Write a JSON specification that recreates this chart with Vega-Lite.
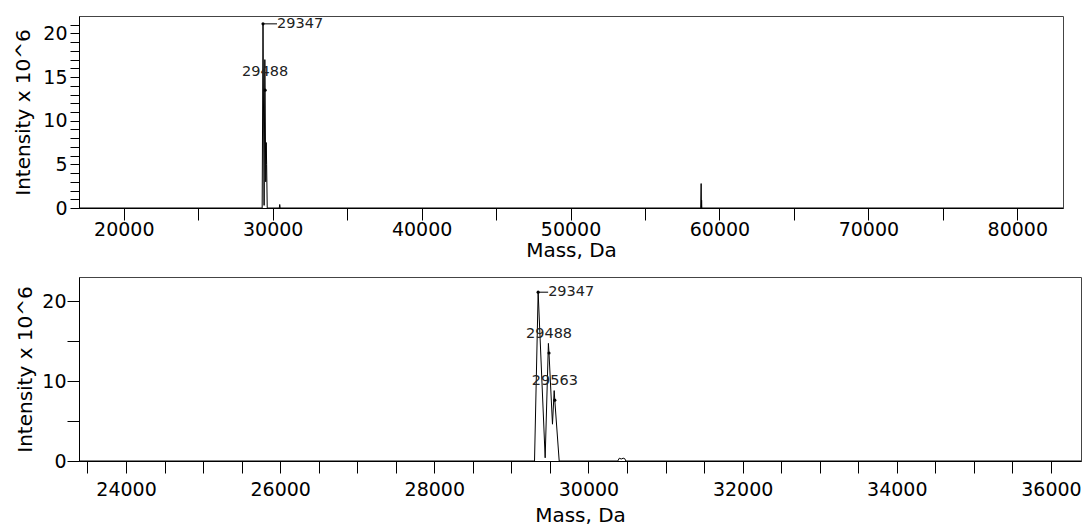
{
  "$schema": "https://vega.github.io/schema/vega-lite/v6.json",
  "padding": {"top": 15, "left": 12, "right": 0, "bottom": 0},
  "background": "white",
  "spacing": 15,
  "align": "none",
  "config": {
    "view": {"stroke": "#444", "strokeWidth": 1},
    "axis": {
      "grid": false,
      "domainColor": "#000",
      "tickColor": "#000",
      "labelColor": "#000",
      "titleColor": "#000",
      "labelFont": "DejaVu Sans",
      "titleFont": "DejaVu Sans",
      "labelFontSize": 19,
      "titleFontSize": 20,
      "titleFontWeight": "normal",
      "labelFlush": false,
      "labelOverlap": false
    }
  },
  "datasets": {
    "top_trace": [
      {"mass": 16990, "intensity": 0},
      {"mass": 29290, "intensity": 0},
      {"mass": 29347, "intensity": 21.1},
      {"mass": 29420, "intensity": 0.3},
      {"mass": 29470, "intensity": 17.0},
      {"mass": 29488, "intensity": 13.5},
      {"mass": 29530, "intensity": 3.0},
      {"mass": 29563, "intensity": 7.5},
      {"mass": 29590, "intensity": 5.0},
      {"mass": 29630, "intensity": 0},
      {"mass": 30440, "intensity": 0},
      {"mass": 30470, "intensity": 0.4},
      {"mass": 30500, "intensity": 0},
      {"mass": 58740, "intensity": 0},
      {"mass": 58770, "intensity": 2.8},
      {"mass": 58790, "intensity": 0},
      {"mass": 58800, "intensity": 0.9},
      {"mass": 58815, "intensity": 0},
      {"mass": 83070, "intensity": 0}
    ],
    "top_peaks": [
      {"mass": 29347, "intensity": 21.1, "label": "29347"},
      {"mass": 29488, "intensity": 13.5, "label": "29488"}
    ],
    "bottom_trace": [
      {"mass": 23390, "intensity": 0},
      {"mass": 29300, "intensity": 0},
      {"mass": 29347, "intensity": 21.1},
      {"mass": 29438, "intensity": 0.4},
      {"mass": 29480, "intensity": 14.7},
      {"mass": 29488, "intensity": 13.5},
      {"mass": 29533, "intensity": 4.6},
      {"mass": 29555, "intensity": 8.8},
      {"mass": 29563, "intensity": 7.6},
      {"mass": 29620, "intensity": 0},
      {"mass": 30380, "intensity": 0},
      {"mass": 30400, "intensity": 0.35},
      {"mass": 30425, "intensity": 0.25},
      {"mass": 30450, "intensity": 0.35},
      {"mass": 30470, "intensity": 0.3},
      {"mass": 30485, "intensity": 0},
      {"mass": 36390, "intensity": 0}
    ],
    "bottom_peaks": [
      {"mass": 29347, "intensity": 21.1, "label": "29347"},
      {"mass": 29488, "intensity": 13.5, "label": "29488"},
      {"mass": 29563, "intensity": 7.6, "label": "29563"}
    ]
  },
  "vconcat": [
    {
      "width": 984,
      "height": 192,
      "encoding": {
        "x": {
          "field": "mass", "type": "quantitative",
          "scale": {"domain": [16990, 83070], "nice": false, "zero": false},
          "axis": {
            "title": "Mass, Da",
            "values": [20000, 25000, 30000, 35000, 40000, 45000, 50000, 55000, 60000, 65000, 70000, 75000, 80000],
            "format": "d",
            "labelExpr": "datum.value % 10000 === 0 ? datum.label : ''",
            "tickSize": 12, "labelPadding": 0, "titlePadding": 1
          }
        },
        "y": {
          "field": "intensity", "type": "quantitative",
          "scale": {"domain": [0, 22], "nice": false},
          "axis": {
            "title": "Intensity x 10^6",
            "values": [0,1,2,3,4,5,6,7,8,9,10,11,12,13,14,15,16,17,18,19,20,21],
            "labelExpr": "datum.value % 5 === 0 ? datum.label : ''",
            "tickSize": 9, "labelPadding": 3, "titlePadding": 9.6
          }
        }
      },
      "layer": [
        {
          "data": {"name": "top_trace"},
          "mark": {"type": "line", "color": "#000", "strokeWidth": 1, "clip": true}
        },
        {
          "data": {"name": "top_peaks"},
          "mark": {"type": "point", "filled": true, "size": 10, "color": "#000", "opacity": 1}
        },
        {
          "data": {"name": "top_peaks"},
          "transform": [{"filter": "datum.label === '29347'"}],
          "mark": {"type": "text", "align": "left", "baseline": "middle", "dx": 14, "font": "DejaVu Sans", "fontSize": 14.5, "color": "#222"},
          "encoding": {"text": {"field": "label"}}
        },
        {
          "data": {"name": "top_peaks"},
          "transform": [{"filter": "datum.label === '29347'"}],
          "mark": {"type": "rule", "color": "#000", "strokeWidth": 1, "x2Offset": 14},
          "encoding": {"x2": {"field": "mass"}, "y2": {"field": "intensity"}}
        },
        {
          "data": {"name": "top_peaks"},
          "transform": [{"filter": "datum.label !== '29347'"}],
          "mark": {"type": "text", "align": "center", "baseline": "middle", "dy": -18, "font": "DejaVu Sans", "fontSize": 14.5, "color": "#222"},
          "encoding": {"text": {"field": "label"}}
        }
      ]
    },
    {
      "width": 1002,
      "height": 184,
      "encoding": {
        "x": {
          "field": "mass", "type": "quantitative",
          "scale": {"domain": [23390, 36390], "nice": false, "zero": false},
          "axis": {
            "title": "Mass, Da",
            "values": [23500,24000,24500,25000,25500,26000,26500,27000,27500,28000,28500,29000,29500,30000,30500,31000,31500,32000,32500,33000,33500,34000,34500,35000,35500,36000],
            "format": "d",
            "labelExpr": "datum.value % 2000 === 0 ? datum.label : ''",
            "tickSize": 12, "labelPadding": 7, "titlePadding": 6
          }
        },
        "y": {
          "field": "intensity", "type": "quantitative",
          "scale": {"domain": [0, 23], "nice": false},
          "axis": {
            "title": "Intensity x 10^6",
            "values": [0, 5, 10, 15, 20],
            "labelExpr": "datum.value % 10 === 0 ? datum.label : ''",
            "tickSize": 12, "labelPadding": 1, "titlePadding": 6.6
          }
        }
      },
      "layer": [
        {
          "data": {"name": "bottom_trace"},
          "mark": {"type": "line", "color": "#000", "strokeWidth": 1, "clip": true}
        },
        {
          "data": {"name": "bottom_peaks"},
          "mark": {"type": "point", "filled": true, "size": 10, "color": "#000", "opacity": 1}
        },
        {
          "data": {"name": "bottom_peaks"},
          "transform": [{"filter": "datum.label === '29347'"}],
          "mark": {"type": "text", "align": "left", "baseline": "middle", "dx": 10, "font": "DejaVu Sans", "fontSize": 14.5, "color": "#222"},
          "encoding": {"text": {"field": "label"}}
        },
        {
          "data": {"name": "bottom_peaks"},
          "transform": [{"filter": "datum.label === '29347'"}],
          "mark": {"type": "rule", "color": "#000", "strokeWidth": 1, "x2Offset": 10},
          "encoding": {"x2": {"field": "mass"}, "y2": {"field": "intensity"}}
        },
        {
          "data": {"name": "bottom_peaks"},
          "transform": [{"filter": "datum.label !== '29347'"}],
          "mark": {"type": "text", "align": "center", "baseline": "middle", "dy": -19, "font": "DejaVu Sans", "fontSize": 14.5, "color": "#222"},
          "encoding": {"text": {"field": "label"}}
        }
      ]
    }
  ]
}
